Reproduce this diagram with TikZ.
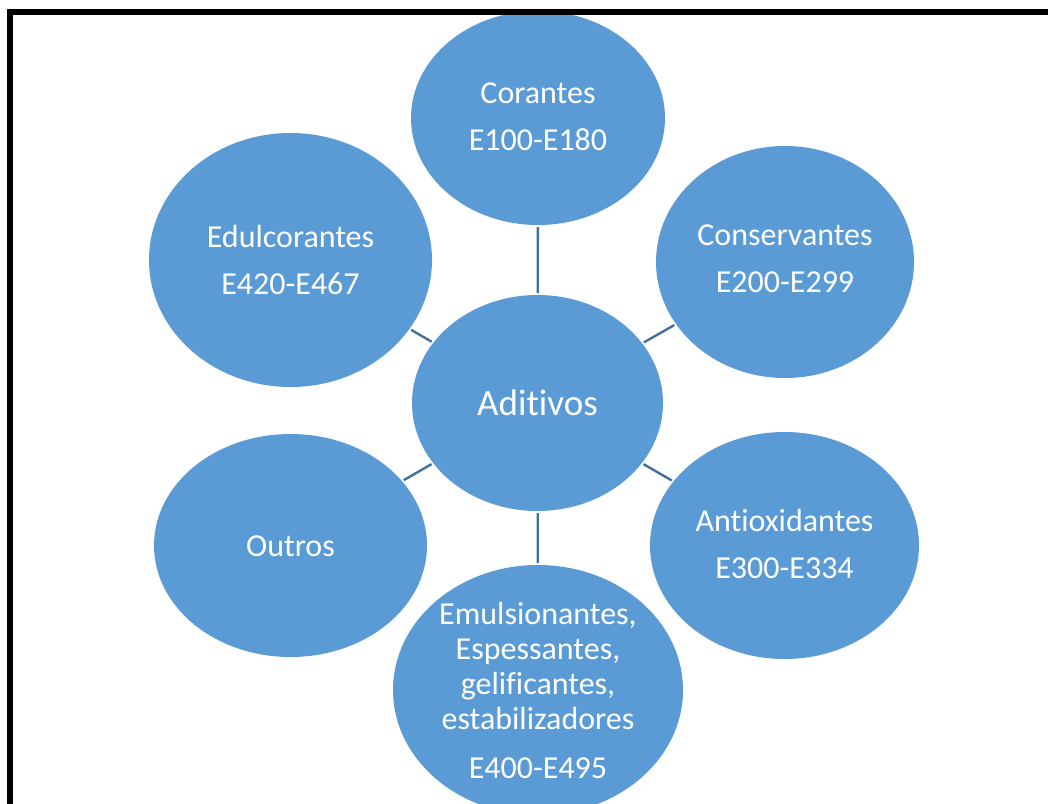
\documentclass[tikz,border=0pt]{standalone}
\usepackage{fontspec}
\setmainfont{Carlito}[Ligatures=NoCommon]
\usetikzlibrary{shapes.geometric}
\definecolor{bubble}{HTML}{5B9BD5}
\definecolor{connc}{HTML}{41719C}
\tikzset{
  bubble/.style={ellipse, fill=bubble, draw=none, inner sep=0pt, outer sep=0pt},
  btext/.style={text=white, align=center, font=\fontsize{32}{35}\selectfont, inner sep=0pt},
  conn/.style={draw=connc, line width=2.4pt, shorten <=2pt, shorten >=2pt},
  frameline/.style={draw=black, line width=5.5pt, line join=miter}
}
\begin{document}
\begin{tikzpicture}[x=1pt,y=-1pt]
\useasboundingbox (0,0) rectangle (1048,803);
\fill[white] (0,0) rectangle (1048,803);
% ellipses
\node[bubble, minimum width=251pt, minimum height=216pt] (c) at (537.5,403) {};
\node[bubble, minimum width=254pt, minimum height=214pt] (n1) at (538,118) {};
\node[bubble, minimum width=258pt, minimum height=232pt] (n2) at (785,262) {};
\node[bubble, minimum width=269pt, minimum height=227pt] (n3) at (784.5,545.5) {};
\node[bubble, minimum width=290pt, minimum height=250pt] (n4) at (538,690) {};
\node[bubble, minimum width=273pt, minimum height=223pt] (n5) at (290.5,545.5) {};
\node[bubble, minimum width=283pt, minimum height=254pt] (n6) at (290.5,260) {};
% connectors
\draw[conn] (c) -- (n1);
\draw[conn] (c) -- (n2);
\draw[conn] (c) -- (n3);
\draw[conn] (c) -- (n4);
\draw[conn] (c) -- (n5);
\draw[conn] (c) -- (n6);
% texts
\node[btext, font=\fontsize{37}{42}\selectfont] (tc) at (c.center) {Aditivos};
\node[btext] (t1) at (538,117) {Corantes\\[12pt]E100-E180};
\node[btext] (t2) at (785,259) {Conservantes\\[12pt]E200-E299};
\node[btext] (t3) at (784.5,544) {Antioxidantes\\[12pt]E300-E334};
\node[btext] (t4) at (538,690) {Emulsionantes,\\Espessantes,\\gelificantes,\\estabilizadores\\[14pt]E400-E495};
\node[btext] (t5) at (290.5,546) {Outros};
\node[btext] (t6) at (290.5,260) {Edulcorantes\\[12pt]E420-E467};
% frame (left and top edges)
\draw[frameline] (10,810) -- (10,12) -- (1055,12);
\end{tikzpicture}
\end{document}
